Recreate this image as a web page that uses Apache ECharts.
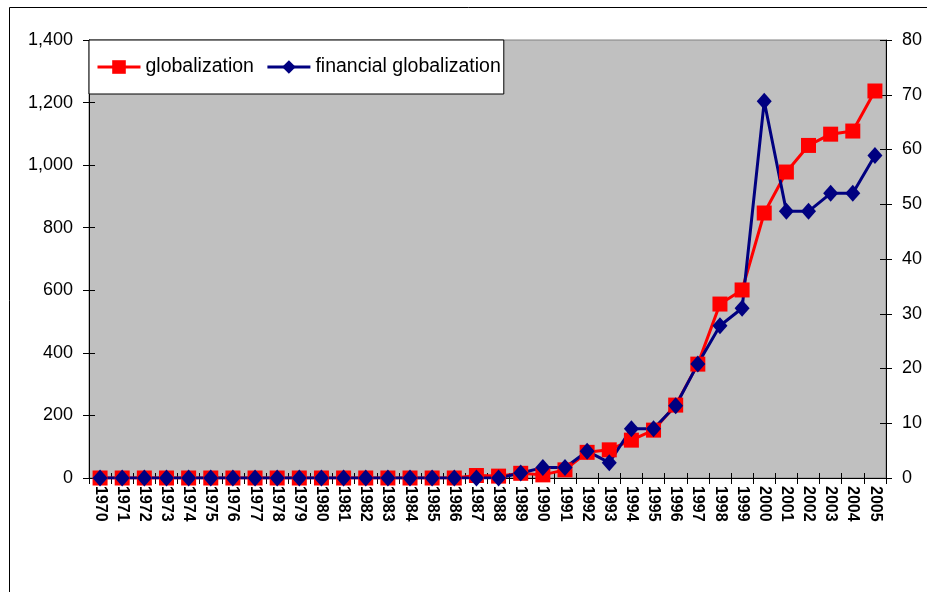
<!DOCTYPE html>
<html>
<head>
<meta charset="utf-8">
<script src="https://cdn.jsdelivr.net/npm/echarts@6/dist/echarts.min.js"></script>
<style>
html,body{margin:0;padding:0;background:#fff;}
#chart{width:927px;height:592px;}
</style>
</head>
<body>
<div id="chart"></div>
<script>
var years = ['1970','1971','1972','1973','1974','1975','1976','1977','1978','1979','1980','1981','1982','1983','1984','1985','1986','1987','1988','1989','1990','1991','1992','1993','1994','1995','1996','1997','1998','1999','2000','2001','2002','2003','2004','2005'];
var globalization = [0,0,0,0,0,0,0,0,0,0,0,0,0,0,0,0,0,8,6,15,10,26,82,90,121,153,233,364,556,601,847,978,1063,1099,1109,1237];
var financialGlobalization = [0,0,0,0,0,0,0,0,0,0,0,0,0,0,0,0,0,0,0,0.9,1.9,1.9,4.9,2.8,9,9,13.2,20.8,27.8,31,68.8,48.7,48.7,52,52,58.9];
var leftTicks = {min:0, max:1400, interval:200};
var rightTicks = {min:0, max:80, interval:10};
var seriesNames = ['globalization','financial globalization'];

var chart = echarts.init(document.getElementById('chart'));
var font = 'Liberation Sans, Arial, sans-serif';
var innerY = function(t, pos){
  return {type:'value', min:t.min, max:t.max, interval:t.interval, position:pos,
    axisLine:{show:false}, axisLabel:{show:false}, splitLine:{show:false},
    axisTick:{show:true,inside:true,length:6,lineStyle:{color:'#000'}}};
};
chart.setOption({
  animation:false,
  backgroundColor:'#fff',
  graphic:[{type:'rect',shape:{x:9.5,y:7.5,width:1000,height:1000},style:{fill:'none',stroke:'#000',lineWidth:1},z:-10}],
  grid:{left:89,right:41,top:40,bottom:114,show:true,backgroundColor:'#C0C0C0',borderColor:'#808080',borderWidth:1},
  legend:{
    left:89, top:40,
    orient:'horizontal',
    backgroundColor:'#fff', borderColor:'#000', borderWidth:1,
    padding:[17,3,17,7],
    itemGap:12, itemWidth:43, itemHeight:17,
    lineStyle:{width:3},
    textStyle:{fontFamily:font,fontSize:19.5,color:'#000'},
    data:[seriesNames[0],seriesNames[1]]
  },
  xAxis:[{
    type:'category', data:years, boundaryGap:true,
    axisLine:{lineStyle:{color:'#000',width:1}},
    axisTick:{show:true,alignWithLabel:false,interval:0,length:6,lineStyle:{color:'#000'}},
    axisLabel:{interval:0,rotate:-90,fontFamily:font,fontWeight:'bold',fontSize:16,color:'#000',margin:8}
  },{
    type:'category', data:years, boundaryGap:true, position:'bottom',
    axisLine:{show:false}, axisLabel:{show:false}, splitLine:{show:false},
    axisTick:{show:true,inside:true,interval:0,length:5,lineStyle:{color:'#000'}}
  }],
  yAxis:[{
    type:'value', min:leftTicks.min, max:leftTicks.max, interval:leftTicks.interval,
    axisLine:{show:true,lineStyle:{color:'#000'}},
    axisTick:{show:true,length:6,lineStyle:{color:'#000'}},
    splitLine:{show:false},
    axisLabel:{fontFamily:font,fontSize:18,color:'#000',margin:16,formatter:function(v){return v.toLocaleString('en-US');}}
  },{
    type:'value', min:rightTicks.min, max:rightTicks.max, interval:rightTicks.interval, position:'right',
    axisLine:{show:true,lineStyle:{color:'#000'}},
    axisTick:{show:true,length:6,lineStyle:{color:'#000'}},
    splitLine:{show:false},
    axisLabel:{fontFamily:font,fontSize:18,color:'#000',margin:16}
  }, innerY(leftTicks,'left'), innerY(rightTicks,'right')],
  series:[{
    name:seriesNames[0], type:'line', yAxisIndex:0, data:globalization,
    symbol:'rect', symbolSize:15,
    lineStyle:{color:'#FF0000',width:3}, itemStyle:{color:'#FF0000'}
  },{
    name:seriesNames[1], type:'line', yAxisIndex:1, data:financialGlobalization,
    symbol:'diamond', symbolSize:[15,17],
    lineStyle:{color:'#000080',width:3}, itemStyle:{color:'#000080'}
  }]
});
</script>
</body>
</html>
